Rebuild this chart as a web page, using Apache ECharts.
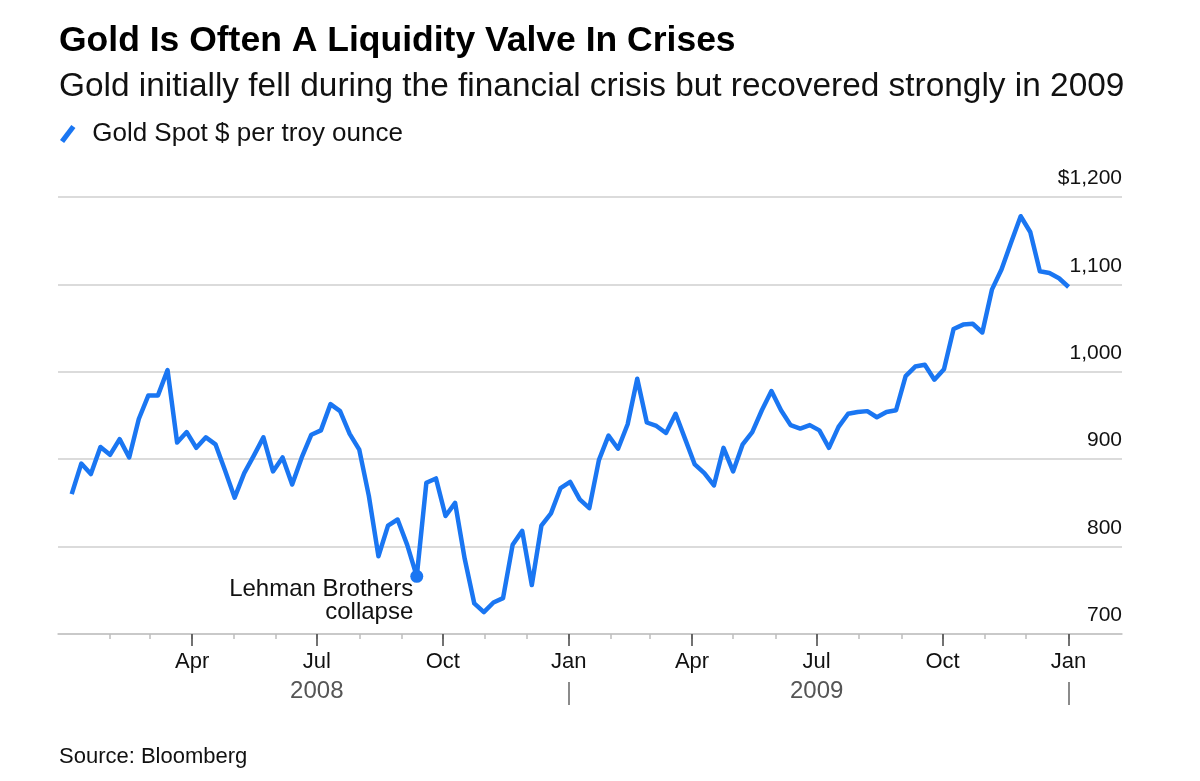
<!DOCTYPE html>
<html>
<head>
<meta charset="utf-8">
<title>Gold Is Often A Liquidity Valve In Crises</title>
<script src="https://cdn.jsdelivr.net/npm/echarts@6/dist/echarts.min.js"></script>
<style>
  html, body { margin: 0; padding: 0; background: #fff; }
  #chart { width: 1200px; height: 781px; }
</style>
</head>
<body>
<div id="chart"></div>
<script>
// weekly closes, first one on Fri 4 Jan 2008
var firstWeek = '2008-01-04'
var goldPrice = [
  860, 895, 883, 914, 905, 923, 902, 946, 973, 973,
  1002, 919, 931, 913, 925, 917, 887, 856, 884, 904,
  925, 886, 902, 871, 902, 928, 933, 963, 955, 929,
  911, 858, 789, 824, 831, 802, 766, 873, 878, 835,
  850, 786, 735, 725, 736, 741, 802, 818, 756, 824,
  838, 867, 874, 854, 844, 899, 927, 912, 940, 992,
  942, 938, 930, 952, 923, 894, 884, 870, 913, 886,
  917, 931, 956, 978, 956, 939, 935, 939, 933, 913,
  937, 952, 954, 955, 948, 954, 956, 995, 1006, 1008,
  991, 1003, 1049, 1054, 1055, 1045, 1094, 1117, 1148, 1178,
  1160, 1115, 1113, 1107, 1097
]
var lehmanWeek = 36
var lehmanText = 'Lehman Brothers\ncollapse'

var quarterTicks = ['2008-04-01', '2008-07-01', '2008-10-01', '2009-01-01', '2009-04-01', '2009-07-01', '2009-10-01', '2010-01-01']
var monthNames = ['Jan', 'Feb', 'Mar', 'Apr', 'May', 'Jun', 'Jul', 'Aug', 'Sep', 'Oct', 'Nov', 'Dec']
var yearLabelDates = ['2008-07-01', '2009-07-01']
var yearSeparators = ['2009-01-01', '2010-01-01']
var yTicks = [700, 800, 900, 1000, 1100, 1200]
var axisStart = '2007-12-25'
var axisEnd = '2010-02-09'

function ts(s) {
  var p = s.split('-').map(Number)
  return Date.UTC(p[0], p[1] - 1, p[2])
}

var DAY = 24 * 3600 * 1000
var weekDates = goldPrice.map(function (v, i) { return ts(firstWeek) + i * 7 * DAY })
var lineData = goldPrice.map(function (v, i) { return [weekDates[i], v] })

// month ticks Feb 2008 .. Jan 2010
var monthTicks = []
for (var m = 1; m <= 24; m++) {
  monthTicks.push(Date.UTC(2008, m, 1))
}

var font = 'Liberation Sans, Arial, sans-serif'
var blue = '#1a76f2'

// x axes are plain value axes holding timestamps, so ticks can sit on exact dates
function dateAxis(extra) {
  var a = {
    type: 'value',
    min: ts(axisStart), max: ts(axisEnd),
    position: 'bottom',
    axisLine: { show: false, onZero: false },
    splitLine: { show: false }
  }
  for (var k in extra) a[k] = extra[k]
  return a
}

var myChart = echarts.init(document.getElementById('chart'))
var option = {
  animation: false,
  backgroundColor: '#fff',
  textStyle: { fontFamily: font },
  title: [
    {
      text: 'Gold Is Often A Liquidity Valve In Crises',
      left: 59, top: 23, padding: 0,
      textStyle: { fontSize: 35.5, fontWeight: 'bold', color: '#000', fontFamily: font }
    },
    {
      text: 'Gold initially fell during the financial crisis but recovered strongly in 2009',
      left: 59, top: 70, padding: 0,
      textStyle: { fontSize: 33.4, fontWeight: 'normal', color: '#111', fontFamily: font }
    },
    {
      text: 'Source: Bloomberg',
      left: 59, top: 746, padding: 0,
      textStyle: { fontSize: 22, fontWeight: 'normal', color: '#111', fontFamily: font }
    }
  ],
  legend: {
    data: ['Gold Spot $ per troy ounce'],
    left: 60, top: 121, padding: 0,
    icon: 'path://M0,14.5 L11,0 L15,3 L4,17.5 Z',
    itemWidth: 17, itemHeight: 18,
    textStyle: { fontSize: 26, color: '#111', fontFamily: font, padding: [0, 0, 0, 11] }
  },
  grid: { left: 58, right: 78, top: 197, bottom: 147 },
  xAxis: [
    dateAxis({
      // month ticks and the base line
      axisLine: { show: true, onZero: false, lineStyle: { color: '#c4c4c4', width: 1.5 } },
      axisTick: { show: true, length: 5, customValues: monthTicks, lineStyle: { color: '#bdbdbd', width: 1.5 } },
      axisLabel: { show: false }
    }),
    dateAxis({
      // quarter ticks with month names
      axisTick: { show: true, length: 12, customValues: quarterTicks.map(ts), lineStyle: { color: '#444', width: 1.5 } },
      axisLabel: {
        customValues: quarterTicks.map(ts),
        margin: 17,
        fontSize: 22, color: '#111', fontFamily: font,
        formatter: function (v) { return monthNames[new Date(v).getUTCMonth()] }
      }
    }),
    dateAxis({
      // years underneath
      offset: 48,
      axisTick: { show: true, length: 23, customValues: yearSeparators.map(ts), lineStyle: { color: '#666', width: 1.5 } },
      axisLabel: {
        customValues: yearLabelDates.map(ts),
        margin: -3,
        fontSize: 24, color: '#555', fontFamily: font,
        formatter: function (v) { return String(new Date(v).getUTCFullYear()) }
      }
    })
  ],
  yAxis: {
    type: 'value',
    position: 'right',
    min: yTicks[0], max: yTicks[yTicks.length - 1], interval: 100,
    axisLine: { show: false },
    axisTick: { show: false },
    splitLine: { lineStyle: { color: '#cfcfcf', width: 1.5 } },
    axisLabel: {
      inside: true,
      margin: 0,
      verticalAlign: 'bottom',
      padding: [0, 0, 8, 0],
      fontSize: 21, color: '#111', fontFamily: font,
      formatter: function (v) {
        var s = v.toLocaleString('en-US')
        return v === yTicks[yTicks.length - 1] ? '$' + s : s
      }
    }
  },
  series: [
    {
      name: 'Gold Spot $ per troy ounce',
      type: 'line',
      xAxisIndex: 0,
      data: lineData,
      showSymbol: false,
      color: blue,
      lineStyle: { color: blue, width: 4.5, join: 'round' },
      z: 3
    },
    {
      name: 'Lehman',
      type: 'scatter',
      xAxisIndex: 0,
      data: [lineData[lehmanWeek]],
      symbolSize: 13,
      itemStyle: { color: blue, opacity: 1 },
      label: {
        show: true,
        formatter: lehmanText,
        position: [3, 8],
        align: 'right',
        verticalAlign: 'top',
        fontSize: 24, lineHeight: 23, color: '#111', fontFamily: font
      },
      z: 4
    }
  ]
}
myChart.setOption(option, true)
</script>
</body>
</html>
